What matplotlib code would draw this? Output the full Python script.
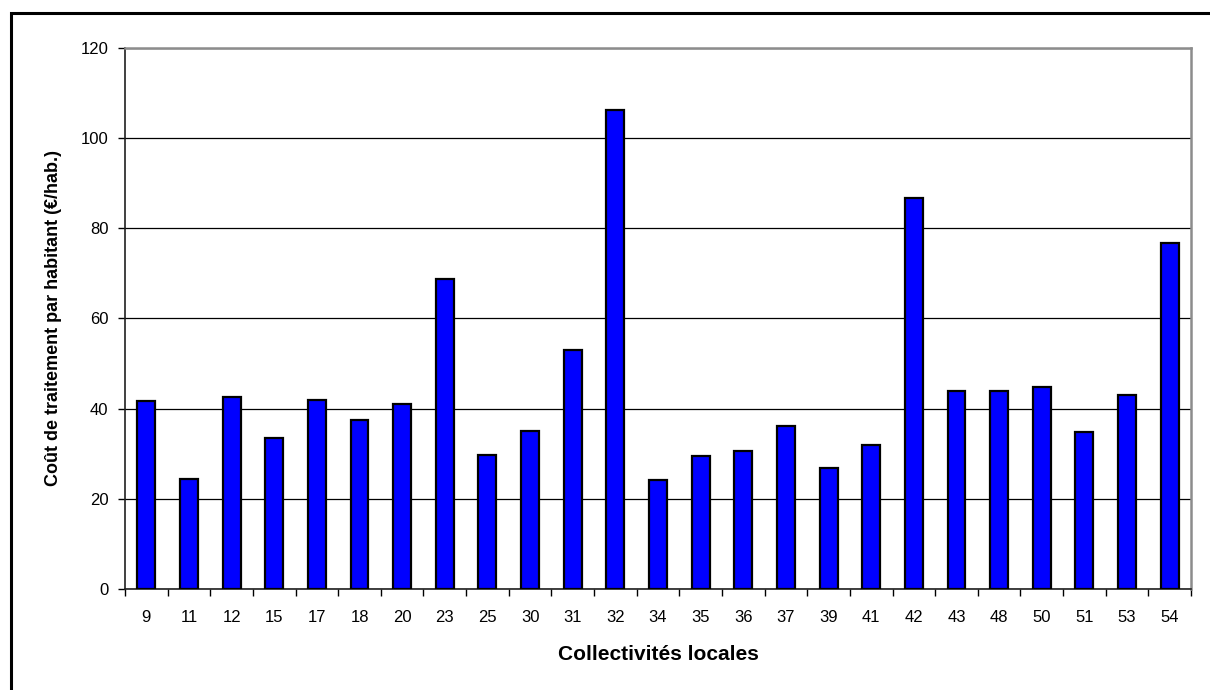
import matplotlib
matplotlib.use('Agg')
import matplotlib.pyplot as plt
import matplotlib.patches as patches
import numpy as np

plt.rcParams['font.family'] = ['Liberation Sans', 'DejaVu Sans']

# Cost per inhabitant for each local authority
collectivites = ['9', '11', '12', '15', '17', '18', '20', '23', '25', '30', '31', '32', '34',
                 '35', '36', '37', '39', '41', '42', '43', '48', '50', '51', '53', '54']
cout_par_hab = [41.7, 24.4, 42.5, 33.5, 42.0, 37.5, 41.0, 68.7, 29.8, 35.0, 52.9, 106.2, 24.2,
                29.4, 30.6, 36.2, 26.8, 32.0, 86.6, 43.9, 43.9, 44.8, 34.7, 42.9, 76.7]
y_ticks = [0, 20, 40, 60, 80, 100, 120]

fig = plt.figure(figsize=(12.1, 6.9), dpi=100)
ax = fig.add_axes([125/1210, 1 - 589/690, (1191 - 125)/1210, (589 - 47.7)/690])

x = np.arange(len(collectivites))
ax.bar(x, cout_par_hab, width=0.42, color='#0000ff', edgecolor='black', linewidth=1.6, zorder=3)

ax.set_xlim(-0.5, len(collectivites) - 0.5)
ax.set_ylim(0, 120)
ax.set_yticks(y_ticks)
ax.yaxis.grid(True, color='black', linewidth=0.9, zorder=0)

# category labels centred, tick marks on category boundaries
ax.set_xticks(x)
ax.set_xticklabels(collectivites)
ax.set_xticks(np.arange(len(collectivites) + 1) - 0.5, minor=True)
ax.tick_params(axis='x', which='major', length=0, pad=15, labelsize=12)
ax.tick_params(axis='x', which='minor', length=5, width=1, direction='out')
ax.tick_params(axis='y', length=5, width=1, direction='out', labelsize=12, pad=7)

for side in ['top', 'right']:
    ax.spines[side].set_color('#8c8c8c')
    ax.spines[side].set_linewidth(1.8)
for side in ['left', 'bottom']:
    ax.spines[side].set_color('#202020')
    ax.spines[side].set_linewidth(1.2)

ax.set_xlabel('Collectivités locales', fontsize=15, fontweight='bold')
ax.set_ylabel('Coût de traitement par habitant (€/hab.)', fontsize=13, fontweight='bold')
ax.xaxis.set_label_coords(0.5, (589 - 645) / 541.3)
ax.yaxis.set_label_coords((62 - 125) / 1066, 0.5)

# outer chart frame
frame = patches.Rectangle((11/1210, -0.1), 1.2, 1 - 13/690 + 0.1, transform=fig.transFigure,
                          fill=False, edgecolor='black', linewidth=2.2, clip_on=False)
fig.patches.append(frame)

fig.savefig('out.png', dpi=100, facecolor='white')
